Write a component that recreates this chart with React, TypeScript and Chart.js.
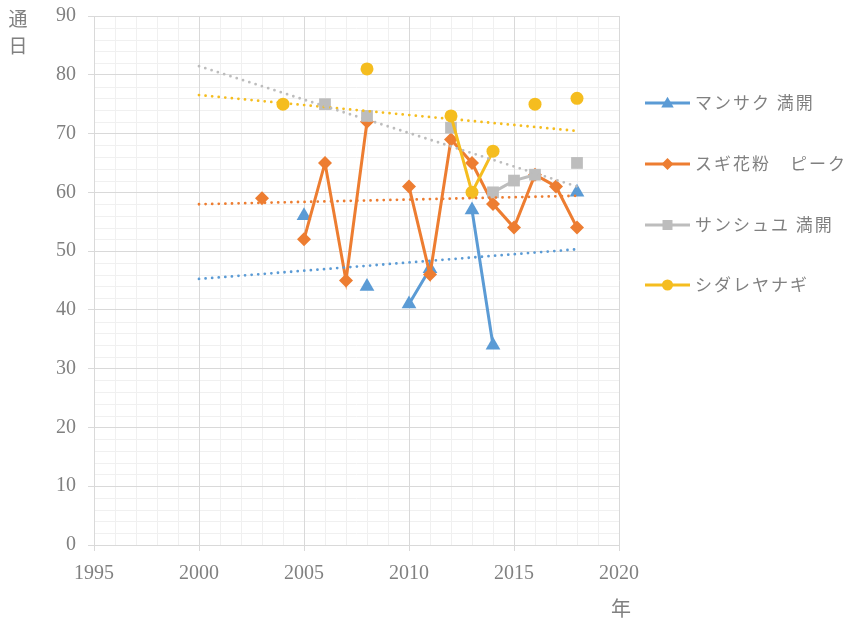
import React, { useEffect, useRef } from "react";
import { Chart, registerables } from "chart.js";

Chart.register(...registerables);

// ---- data ----
const years = [2003, 2004, 2005, 2006, 2007, 2008, 2009, 2010, 2011, 2012, 2013, 2014, 2015, 2016, 2017, 2018];
const mansaku = [null, null, 56, null, null, 44, null, 41, 47, null, 57, 34, null, null, null, 60];
const sugi = [59, null, 52, 65, 45, 72, null, 61, 46, 69, 65, 58, 54, 63, 61, 54];
const sanshuyu = [null, null, null, 75, null, 73, null, null, null, 71, null, 60, 62, 63, null, 65];
const shidare = [null, 75, null, null, null, 81, null, null, null, 73, 60, 67, null, 75, null, 76];

const seriesNames = ["マンサク 満開", "スギ花粉　ピーク", "サンシュユ 満開", "シダレヤナギ"];
const xTickValues = [1995, 2000, 2005, 2010, 2015, 2020];
const yTickValues = [0, 10, 20, 30, 40, 50, 60, 70, 80, 90];
const trendStart = 2000;
const trendEnd = 2018;
const yTitle = ["通", "日"];
const xTitle = "年";

const COLORS = ["#5b9bd5", "#ed7d31", "#bdbdbd", "#f5bd1f"];
const SHAPES = ["triangle", "rectRot", "rect", "circle"];
const RADII = [8.5, 7, 8.3, 6.5];

const seriesValues = [mansaku, sugi, sanshuyu, shidare];

function toPoints(vals: (number | null)[]) {
  return years.map((x, i) => ({ x, y: vals[i] }));
}

function linFit(vals: (number | null)[]) {
  const xs: number[] = [];
  const ys: number[] = [];
  vals.forEach((v, i) => {
    if (v !== null && v !== undefined) {
      xs.push(years[i]);
      ys.push(v);
    }
  });
  const n = xs.length;
  const mx = xs.reduce((a, b) => a + b, 0) / n;
  const my = ys.reduce((a, b) => a + b, 0) / n;
  let sxy = 0;
  let sxx = 0;
  for (let i = 0; i < n; i++) {
    sxy += (xs[i] - mx) * (ys[i] - my);
    sxx += (xs[i] - mx) * (xs[i] - mx);
  }
  const b = sxy / sxx;
  const a = my - b * mx;
  return [
    { x: trendStart, y: a + b * trendStart },
    { x: trendEnd, y: a + b * trendEnd },
  ];
}

const TEXT_GRAY = "#808080";
const GRID_MAJOR = "#d9d9d9";
const GRID_MINOR = "#f0f0f0";

const minorGridPlugin = {
  id: "minorGrid",
  beforeDraw(chart: any) {
    const { ctx, chartArea, scales } = chart;
    const xs = scales.x;
    const ys = scales.y;
    ctx.save();
    ctx.strokeStyle = GRID_MINOR;
    ctx.lineWidth = 1;
    ctx.beginPath();
    for (let v = xs.min; v <= xs.max; v += 1) {
      if (v % 5 === 0) continue;
      const px = Math.round(xs.getPixelForValue(v)) + 0.5;
      ctx.moveTo(px, chartArea.top);
      ctx.lineTo(px, chartArea.bottom);
    }
    for (let v = ys.min; v <= ys.max; v += 2) {
      if (v % 10 === 0) continue;
      const py = Math.round(ys.getPixelForValue(v)) + 0.5;
      ctx.moveTo(chartArea.left, py);
      ctx.lineTo(chartArea.right, py);
    }
    ctx.stroke();
    ctx.restore();
  },
};

function drawMarker(ctx: CanvasRenderingContext2D, shape: string, x: number, y: number, r: number) {
  ctx.beginPath();
  if (shape === "triangle") {
    ctx.moveTo(x, y - r);
    ctx.lineTo(x + r * 0.866, y + r * 0.5);
    ctx.lineTo(x - r * 0.866, y + r * 0.5);
    ctx.closePath();
  } else if (shape === "rectRot") {
    ctx.moveTo(x, y - r);
    ctx.lineTo(x + r, y);
    ctx.lineTo(x, y + r);
    ctx.lineTo(x - r, y);
    ctx.closePath();
  } else if (shape === "rect") {
    const s = r * Math.SQRT1_2;
    ctx.rect(x - s, y - s, 2 * s, 2 * s);
  } else {
    ctx.arc(x, y, r, 0, Math.PI * 2);
  }
  ctx.fill();
}

const legendY = [103, 164, 225, 285];

const annotationPlugin = {
  id: "customTexts",
  afterDraw(chart: any) {
    const { ctx } = chart;
    ctx.save();
    // legend
    seriesNames.forEach((name, i) => {
      const y = legendY[i];
      ctx.strokeStyle = COLORS[i];
      ctx.lineWidth = 3;
      ctx.beginPath();
      ctx.moveTo(645, y);
      ctx.lineTo(690, y);
      ctx.stroke();
      ctx.fillStyle = COLORS[i];
      drawMarker(ctx, SHAPES[i], 667.5, y + (SHAPES[i] === "triangle" ? 1 : 0), RADII[i] * 0.85);
      ctx.fillStyle = TEXT_GRAY;
      ctx.font = '17px "Noto Sans CJK JP"';
      (ctx as any).letterSpacing = "2px";
      ctx.textAlign = "left";
      ctx.textBaseline = "middle";
      ctx.fillText(name, 695, y);
      (ctx as any).letterSpacing = "0px";
    });
    // axis titles
    ctx.fillStyle = TEXT_GRAY;
    ctx.font = '19px "Noto Sans CJK JP"';
    ctx.textAlign = "center";
    ctx.textBaseline = "middle";
    ctx.fillText(yTitle[0], 18, 19);
    ctx.fillText(yTitle[1], 18, 46);
    ctx.font = '20px "Noto Sans CJK JP"';
    ctx.fillText(xTitle, 621, 608);
    ctx.restore();
  },
};

export default function App() {
  const ref = useRef<HTMLCanvasElement | null>(null);

  useEffect(() => {
    if (!ref.current) return;
    const trendSets = seriesValues.map((vals, i) => ({
      label: "trend" + i,
      data: linFit(vals),
      borderColor: COLORS[i],
      backgroundColor: COLORS[i],
      borderWidth: 2.8,
      borderDash: [0, 6.6],
      borderCapStyle: "round" as const,
      pointRadius: 0,
      showLine: true,
      fill: false,
    }));
    // series drawn with later series on top (index 0 is drawn last)
    const seriesSets = seriesValues
      .map((vals, i) => ({
        label: seriesNames[i],
        data: toPoints(vals),
        borderColor: COLORS[i],
        backgroundColor: COLORS[i],
        borderWidth: 3,
        pointStyle: SHAPES[i] as any,
        pointRadius: RADII[i],
        pointBorderWidth: 0,
        pointBackgroundColor: COLORS[i],
        showLine: true,
        spanGaps: false,
        fill: false,
        tension: 0,
      }))
      .reverse();

    const chart = new Chart(ref.current, {
      type: "line",
      data: { datasets: [...trendSets, ...seriesSets] as any },
      options: {
        animation: false,
        responsive: false,
        devicePixelRatio: 1,
        events: [],
        layout: { padding: { left: 0, right: 229, top: 16, bottom: 0 } },
        plugins: { legend: { display: false }, tooltip: { enabled: false } },
        scales: {
          x: {
            type: "linear",
            min: 1995,
            max: 2020,
            afterBuildTicks: (s: any) => {
              s.ticks = xTickValues.map((v) => ({ value: v }));
            },
            afterFit: (s: any) => {
              s.height = 77;
              s.paddingLeft = 0;
              s.paddingRight = 0;
              s.paddingTop = 0;
              s.paddingBottom = 0;
            },
            ticks: {
              font: { family: "Liberation Serif", size: 20 },
              color: TEXT_GRAY,
              padding: 11,
              maxRotation: 0,
              callback: (v: any) => String(v),
            },
            grid: { color: GRID_MAJOR, tickLength: 6, tickColor: GRID_MAJOR },
            border: { color: GRID_MAJOR, width: 1 },
          },
          y: {
            type: "linear",
            min: 0,
            max: 90,
            afterBuildTicks: (s: any) => {
              s.ticks = yTickValues.map((v) => ({ value: v }));
            },
            afterFit: (s: any) => {
              s.width = 94;
              s.paddingTop = 0;
              s.paddingBottom = 0;
              s.paddingLeft = 0;
              s.paddingRight = 0;
            },
            ticks: {
              font: { family: "Liberation Serif", size: 20 },
              color: TEXT_GRAY,
              padding: 12,
              callback: (v: any) => String(v),
            },
            grid: { color: GRID_MAJOR, tickLength: 6, tickColor: GRID_MAJOR },
            border: { color: GRID_MAJOR, width: 1 },
          },
        },
      },
      plugins: [minorGridPlugin, annotationPlugin],
    });
    return () => chart.destroy();
  }, []);

  return (
    <div style={{ position: "absolute", left: 0, top: 0, width: 848, height: 622, background: "#fff" }}>
      <canvas ref={ref} width={848} height={622} style={{ display: "block", width: 848, height: 622 }} />
    </div>
  );
}
